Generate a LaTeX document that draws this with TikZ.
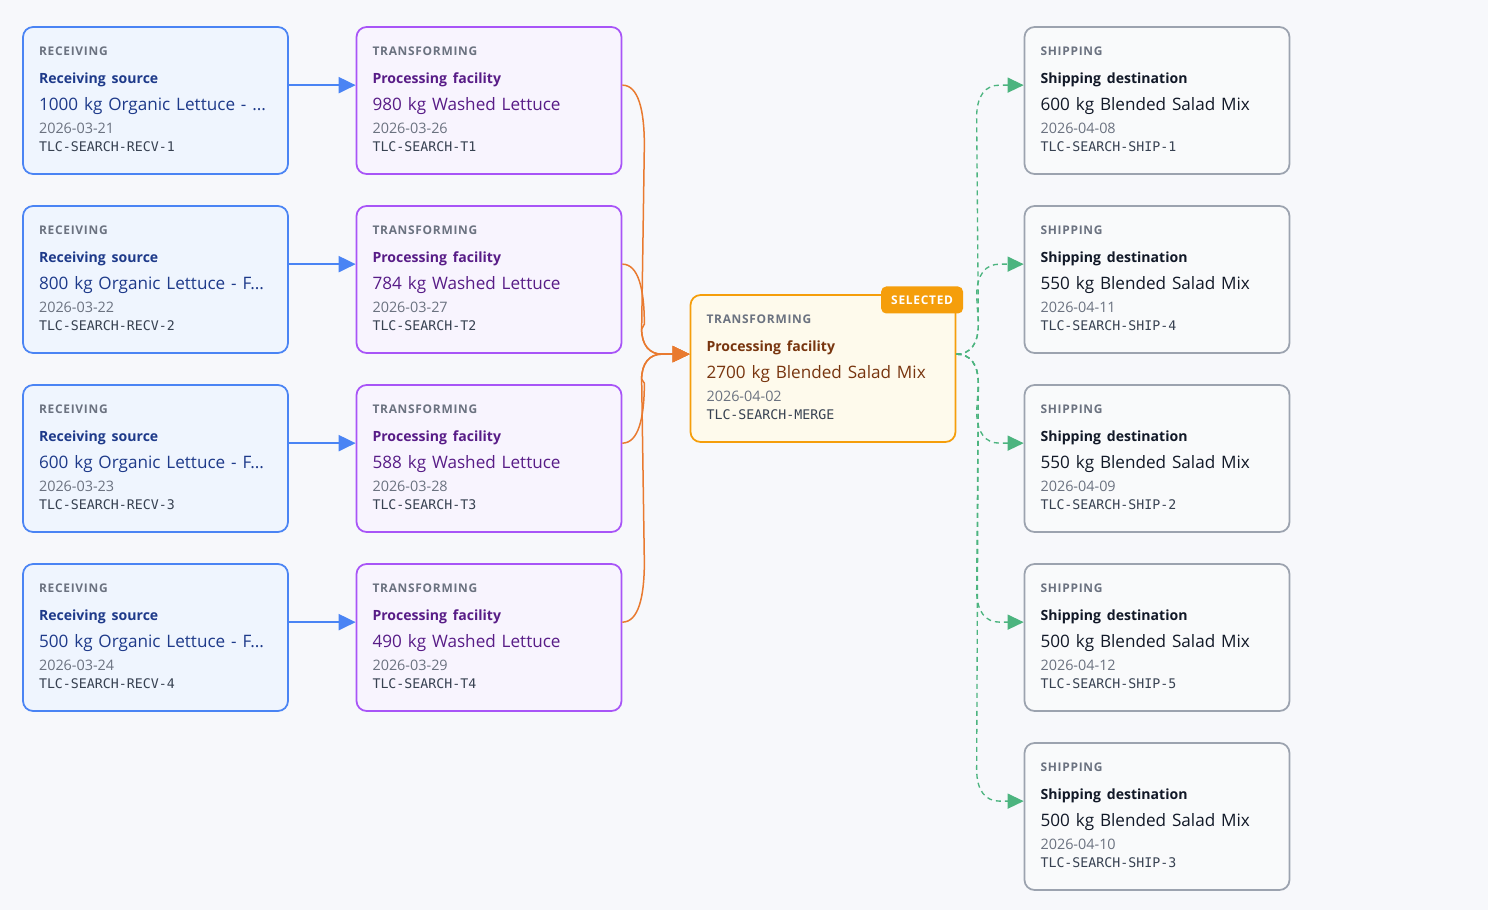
\documentclass[tikz,border=0pt]{standalone}
\usepackage{fontspec}
\setmainfont{Open Sans}
\setmonofont{DejaVu Sans Mono}
\newfontfamily\trackfont[LetterSpace=6]{Open Sans}
\usetikzlibrary{positioning,calc,arrows.meta}

\definecolor{bgcol}{HTML}{F7F8FB}
\definecolor{recvline}{HTML}{4A84F4}
\definecolor{recvfill}{HTML}{EFF5FE}
\definecolor{recvtext}{HTML}{1E3A8A}
\definecolor{transline}{HTML}{A855F7}
\definecolor{transfill}{HTML}{F8F4FE}
\definecolor{transtext}{HTML}{581C87}
\definecolor{mergeline}{HTML}{F59E0B}
\definecolor{mergefill}{HTML}{FEFAEC}
\definecolor{mergetext}{HTML}{78350F}
\definecolor{shipline}{HTML}{9CA3AF}
\definecolor{shipfill}{HTML}{F9FAFB}
\definecolor{shiptext}{HTML}{111827}
\definecolor{stagegray}{HTML}{6B7280}
\definecolor{idgray}{HTML}{374151}
\definecolor{edgeorange}{HTML}{E97A2F}
\definecolor{edgegreen}{HTML}{4CB47F}

\newcommand{\stage}[1]{{\fontsize{6.8}{6.8}\trackfont\bfseries\color{stagegray}#1\par}}
\newcommand{\facility}[1]{{\fontsize{8}{15.94}\selectfont\bfseries #1\par}}
\newcommand{\amount}[1]{{\fontsize{9.75}{15.2}\selectfont #1\par}}
\newcommand{\when}[1]{{\fontsize{8.2}{13.26}\selectfont\color{stagegray}#1\par}}
\newcommand{\lotid}[1]{{\fontsize{7.55}{10.47}\ttfamily\color{idgray}#1\par}}

\begin{document}
\begin{tikzpicture}[
        x=0.02cm, y=-0.02cm,
        card/.style={rectangle, rounded corners=0.2cm, line width=0.035cm, text width=4.66cm, inner xsep=0.32cm, inner ysep=0pt, text height=0.566cm, text depth=2.374cm, align=left},
        recv/.style={card, draw=recvline, fill=recvfill, text=recvtext},
        trans/.style={card, draw=transline, fill=transfill, text=transtext},
        merge/.style={card, draw=mergeline, fill=mergefill, text=mergetext},
        ship/.style={card, draw=shipline, fill=shipfill, text=shiptext},
        badge/.style={rectangle, rounded corners=0.1cm, fill=mergeline, text=white, font=\fontsize{6.8}{6.8}\trackfont\bfseries, minimum height=0.54cm, inner xsep=0.2cm},
        feed/.style={-{Triangle[length=0.34cm, width=0.32cm]}, line width=0.04cm, recvline},
        pool/.style={-{Triangle[length=0.34cm, width=0.32cm]}, line width=0.03cm, edgeorange},
        spread/.style={-{Triangle[length=0.32cm, width=0.3cm]}, line width=0.027cm, edgegreen, dash pattern=on 0.1cm off 0.08cm}
    ]
    \fill[bgcol] (0,0) rectangle (1488,910);

    % Receiving column
    \node[recv] (r1) at (155.5,100.5) {\stage{RECEIVING}\facility{Receiving source}\amount{1000 kg Organic Lettuce - ...}\when{2026-03-21}\lotid{TLC-SEARCH-RECV-1}};
    \node[recv] (r2) at (155.5,279.5) {\stage{RECEIVING}\facility{Receiving source}\amount{800 kg Organic Lettuce - F...}\when{2026-03-22}\lotid{TLC-SEARCH-RECV-2}};
    \node[recv] (r3) at (155.5,458.5) {\stage{RECEIVING}\facility{Receiving source}\amount{600 kg Organic Lettuce - F...}\when{2026-03-23}\lotid{TLC-SEARCH-RECV-3}};
    \node[recv] (r4) at (155.5,637.5) {\stage{RECEIVING}\facility{Receiving source}\amount{500 kg Organic Lettuce - F...}\when{2026-03-24}\lotid{TLC-SEARCH-RECV-4}};

    % Washing column
    \node[trans] (t1) at (489,100.5) {\stage{TRANSFORMING}\facility{Processing facility}\amount{980 kg Washed Lettuce}\when{2026-03-26}\lotid{TLC-SEARCH-T1}};
    \node[trans] (t2) at (489,279.5) {\stage{TRANSFORMING}\facility{Processing facility}\amount{784 kg Washed Lettuce}\when{2026-03-27}\lotid{TLC-SEARCH-T2}};
    \node[trans] (t3) at (489,458.5) {\stage{TRANSFORMING}\facility{Processing facility}\amount{588 kg Washed Lettuce}\when{2026-03-28}\lotid{TLC-SEARCH-T3}};
    \node[trans] (t4) at (489,637.5) {\stage{TRANSFORMING}\facility{Processing facility}\amount{490 kg Washed Lettuce}\when{2026-03-29}\lotid{TLC-SEARCH-T4}};

    % Selected blend
    \node[merge] (m) at (823,368.5) {\stage{TRANSFORMING}\facility{Processing facility}\amount{2700 kg Blended Salad Mix}\when{2026-04-02}\lotid{TLC-SEARCH-MERGE}};
    \node[badge, anchor=north east] (sel) at ($(m.north east)+(7,-8)$) {SELECTED};

    % Shipping column
    \node[ship] (s1) at (1157,100.5) {\stage{SHIPPING}\facility{Shipping destination}\amount{600 kg Blended Salad Mix}\when{2026-04-08}\lotid{TLC-SEARCH-SHIP-1}};
    \node[ship] (s4) at (1157,279.5) {\stage{SHIPPING}\facility{Shipping destination}\amount{550 kg Blended Salad Mix}\when{2026-04-11}\lotid{TLC-SEARCH-SHIP-4}};
    \node[ship] (s2) at (1157,458.5) {\stage{SHIPPING}\facility{Shipping destination}\amount{550 kg Blended Salad Mix}\when{2026-04-09}\lotid{TLC-SEARCH-SHIP-2}};
    \node[ship] (s5) at (1157,637.5) {\stage{SHIPPING}\facility{Shipping destination}\amount{500 kg Blended Salad Mix}\when{2026-04-12}\lotid{TLC-SEARCH-SHIP-5}};
    \node[ship] (s3) at (1157,816.5) {\stage{SHIPPING}\facility{Shipping destination}\amount{500 kg Blended Salad Mix}\when{2026-04-10}\lotid{TLC-SEARCH-SHIP-3}};

    % Receiving -> washing
    \draw[feed] ($(r1.north east)+(0,59)$) -- ($(t1.north west)+(0,59)$);
    \draw[feed] ($(r2.north east)+(0,59)$) -- ($(t2.north west)+(0,59)$);
    \draw[feed] ($(r3.north east)+(0,59)$) -- ($(t3.north west)+(0,59)$);
    \draw[feed] ($(r4.north east)+(0,59)$) -- ($(t4.north west)+(0,59)$);

    % Washing -> blend
    \coordinate (join) at ($(m.north west)+(-28,60)$);
    \draw[pool] ($(t1.north east)+(0,59)$) .. controls +(16,0) and +(0,-35) .. ++(22,60) -- ($(join)+(-20,-25)$) .. controls +(0,16) and +(-12,0) .. (join) -- ($(m.north west)+(0,60)$);
    \draw[pool] ($(t2.north east)+(0,59)$) .. controls +(16,0) and +(0,-35) .. ++(22,60) -- ($(join)+(-20,-25)$) .. controls +(0,16) and +(-12,0) .. (join) -- ($(m.north west)+(0,60)$);
    \draw[pool] ($(t3.north east)+(0,59)$) .. controls +(16,0) and +(0,35) .. ++(22,-60) -- ($(join)+(-20,25)$) .. controls +(0,-16) and +(-12,0) .. (join) -- ($(m.north west)+(0,60)$);
    \draw[pool] ($(t4.north east)+(0,59)$) .. controls +(16,0) and +(0,35) .. ++(22,-60) -- ($(join)+(-20,25)$) .. controls +(0,-16) and +(-12,0) .. (join) -- ($(m.north west)+(0,60)$);

    % Blend -> shipments
    \draw[spread] ($(m.north east)+(0,60)$) .. controls +(14,0) and +(0,20) .. ++(22,-30) -- ($(s1.north west)+(-47,91)$) .. controls +(0,-22) and +(-14,0) .. ($(s1.north west)+(-24,59)$) -- ($(s1.north west)+(0,59)$);
    \draw[spread] ($(m.north east)+(0,60)$) .. controls +(14,0) and +(0,20) .. ++(22,-30) -- ($(s4.north west)+(-47,91)$) .. controls +(0,-22) and +(-14,0) .. ($(s4.north west)+(-24,59)$) -- ($(s4.north west)+(0,59)$);
    \draw[spread] ($(m.north east)+(0,60)$) .. controls +(14,0) and +(0,-20) .. ++(22,30) -- ($(s2.north west)+(-47,27)$) .. controls +(0,22) and +(-14,0) .. ($(s2.north west)+(-24,59)$) -- ($(s2.north west)+(0,59)$);
    \draw[spread] ($(m.north east)+(0,60)$) .. controls +(14,0) and +(0,-20) .. ++(22,30) -- ($(s5.north west)+(-47,27)$) .. controls +(0,22) and +(-14,0) .. ($(s5.north west)+(-24,59)$) -- ($(s5.north west)+(0,59)$);
    \draw[spread] ($(m.north east)+(0,60)$) .. controls +(14,0) and +(0,-20) .. ++(22,30) -- ($(s3.north west)+(-47,27)$) .. controls +(0,22) and +(-14,0) .. ($(s3.north west)+(-24,59)$) -- ($(s3.north west)+(0,59)$);

\end{tikzpicture}
\end{document}
